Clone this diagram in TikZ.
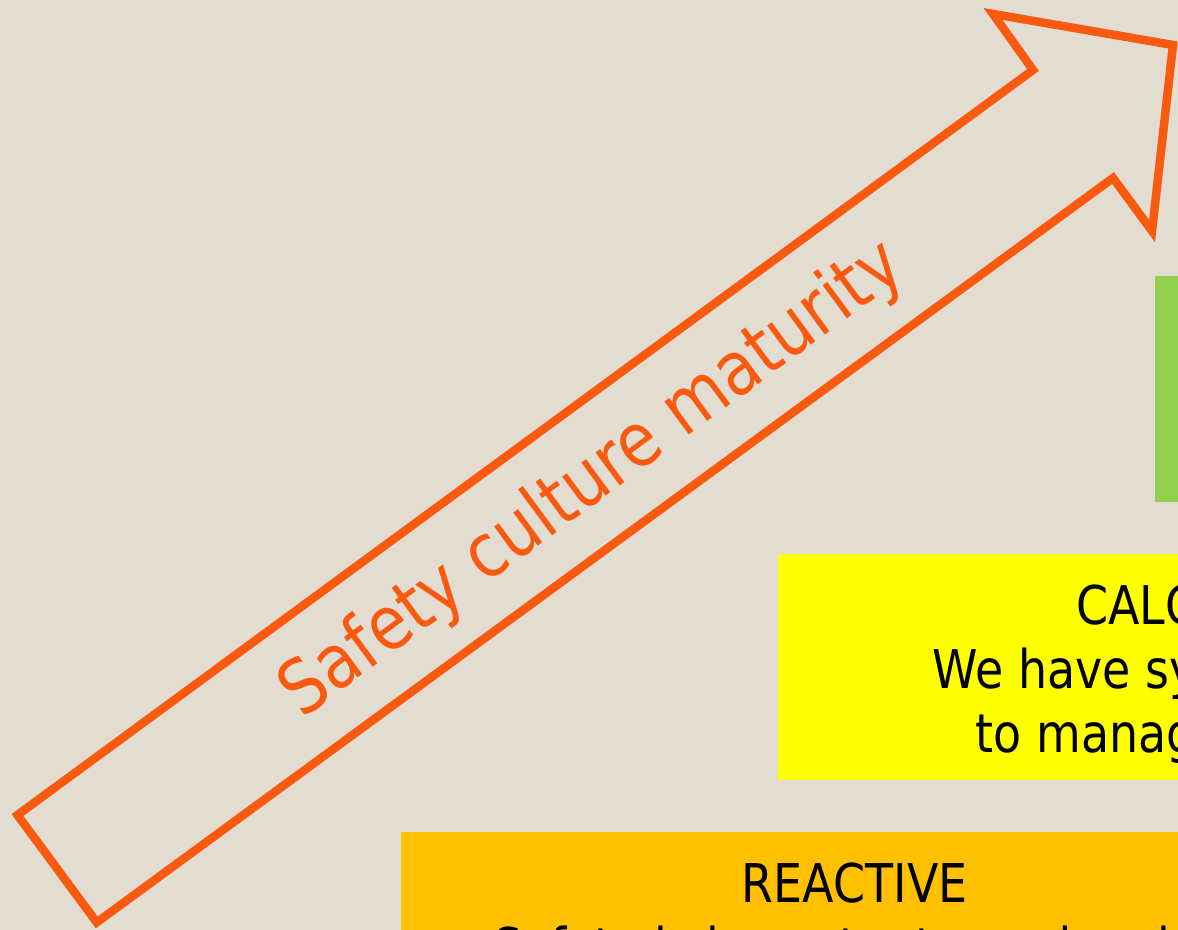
\documentclass[tikz,border=0pt]{standalone}
\usepackage{fontspec}
\setmainfont{DejaVu Sans}[FakeStretch=0.86]
\definecolor{paper}{RGB}{227,221,209}
\definecolor{arroworange}{RGB}{250,90,15}
\definecolor{stepgreen}{RGB}{146,208,80}
\definecolor{stepyellow}{RGB}{255,255,0}
\definecolor{stepgold}{RGB}{255,192,0}
\newcommand{\toppad}{\rule{0pt}{5.5mm}} % pushes the lines a bit down
\tikzset{stepbox/.style={fill=#1, minimum width=90.8mm, minimum height=22.6mm,
  inner sep=0pt, anchor=north west, align=center, font=\fontsize{15.2}{18.2}\selectfont}}
\begin{document}
\begin{tikzpicture}[x=0.1mm,y=-0.1mm]
\useasboundingbox (0,0) rectangle (1178,930);
\clip (0,0) rectangle (1178,930);
\fill[paper] (0,0) rectangle (1178,930); % background
% the big arrow, edit here for the outline
\draw[arroworange, line width=0.85mm] (17.5,815) -- (1033,70) -- (993,14) -- (1173,45)
  -- (1152,231) -- (1113,178) -- (96.7,922.4) -- cycle;
\node[rotate=36.3, text=arroworange, font=\fontsize{21.4}{25}\selectfont] (maturity) at (593,480) {Safety culture maturity};
% the steps
\node[stepbox=stepgreen] (stepthree) at (1154,275) {};
\node[stepbox=stepyellow] (steptwo) at (777,553) {\toppad CALCULATIVE\\We have systems in place\\to manage all hazards};
\node[stepbox=stepgold] (stepone) at (400,831) {\toppad REACTIVE\\Safety is important, we do a lot\\every time we have an accident};
\end{tikzpicture}
\end{document}
